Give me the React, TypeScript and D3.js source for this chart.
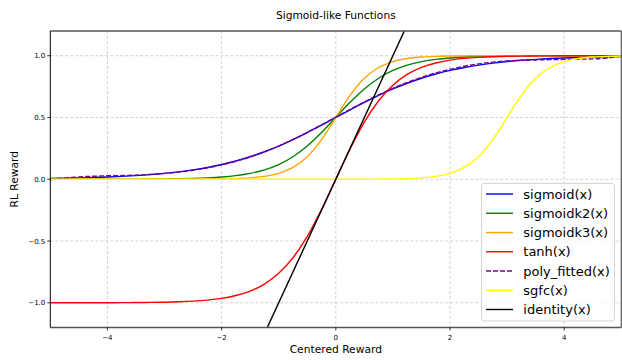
import React from "react";
import * as d3 from "d3";

const xs = [-5, -4.75, -4.5, -4.25, -4, -3.75, -3.5, -3.25, -3, -2.75, -2.5, -2.25, -2, -1.75, -1.5, -1.25, -1, -0.75, -0.5, -0.25, 0,
  0.25, 0.5, 0.75, 1, 1.25, 1.5, 1.75, 2, 2.25, 2.5, 2.75, 3, 3.25, 3.5, 3.75, 4, 4.25, 4.5, 4.75, 5];

const sigmoid = [0.0067, 0.0086, 0.011, 0.0141, 0.018, 0.023, 0.0293, 0.0373, 0.0474, 0.0601, 0.0759, 0.0953, 0.1192, 0.148, 0.1824, 0.2227, 0.2689, 0.3208, 0.3775, 0.4378, 0.5,
  0.5622, 0.6225, 0.6792, 0.7311, 0.7773, 0.8176, 0.852, 0.8808, 0.9047, 0.9241, 0.9399, 0.9526, 0.9627, 0.9707, 0.977, 0.982, 0.9859, 0.989, 0.9914, 0.9933];

const sigmoidk2 = [0.0, 0.0001, 0.0001, 0.0002, 0.0003, 0.0006, 0.0009, 0.0015, 0.0025, 0.0041, 0.0067, 0.011, 0.018, 0.0293, 0.0474, 0.0759, 0.1192, 0.1824, 0.2689, 0.3775, 0.5,
  0.6225, 0.7311, 0.8176, 0.8808, 0.9241, 0.9526, 0.9707, 0.982, 0.989, 0.9933, 0.9959, 0.9975, 0.9985, 0.9991, 0.9994, 0.9997, 0.9998, 0.9999, 0.9999, 1.0];

const sigmoidk3 = [0.0, 0.0, 0.0, 0.0, 0.0, 0.0, 0.0, 0.0001, 0.0001, 0.0003, 0.0006, 0.0012, 0.0025, 0.0052, 0.011, 0.023, 0.0474, 0.0953, 0.1824, 0.3208, 0.5,
  0.6792, 0.8176, 0.9047, 0.9526, 0.977, 0.989, 0.9948, 0.9975, 0.9988, 0.9994, 0.9997, 0.9999, 0.9999, 1.0, 1.0, 1.0, 1.0, 1.0, 1.0, 1.0];

const tanhV = [-0.9999, -0.9999, -0.9998, -0.9996, -0.9993, -0.9989, -0.9982, -0.997, -0.9951, -0.9919, -0.9866, -0.978, -0.964, -0.9414, -0.9051, -0.8483, -0.7616, -0.6351, -0.4621, -0.2449, 0,
  0.2449, 0.4621, 0.6351, 0.7616, 0.8483, 0.9051, 0.9414, 0.964, 0.978, 0.9866, 0.9919, 0.9951, 0.997, 0.9982, 0.9989, 0.9993, 0.9996, 0.9998, 0.9999, 0.9999];

const polyFitted = [-0.0033, 0.0086, 0.019, 0.0241, 0.028, 0.03, 0.0333, 0.0393, 0.0474, 0.0581, 0.0729, 0.0923, 0.1162, 0.146, 0.1804, 0.2217, 0.2689, 0.3218, 0.3795, 0.4408, 0.503,
  0.5652, 0.6265, 0.6832, 0.7361, 0.7833, 0.8246, 0.86, 0.8898, 0.9147, 0.9341, 0.9479, 0.9576, 0.9627, 0.9657, 0.968, 0.97, 0.9719, 0.974, 0.9814, 0.9973];

const sgfc = [0, 0, 0, 0, 0, 0, 0, 0, 0, 0, 0, 0, 0, 0, 0, 0, 0, 0, 0, 0, 0.0001,
  0.0003, 0.0006, 0.0012, 0.0025, 0.0052, 0.011, 0.023, 0.0474, 0.0953, 0.1824, 0.3208, 0.5, 0.6792, 0.8176, 0.9047, 0.9526, 0.977, 0.989, 0.9948, 0.9975];

const identityX = [-5, 5];
const identityY = [-5, 5];

const xTicks = [-4, -2, 0, 2, 4];
const yTicks = [-1.0, -0.5, 0.0, 0.5, 1.0];

const series = [
  { name: "sigmoid(x)", x: xs, y: sigmoid, color: "#0000ff", dash: "" },
  { name: "sigmoidk2(x)", x: xs, y: sigmoidk2, color: "#008000", dash: "" },
  { name: "sigmoidk3(x)", x: xs, y: sigmoidk3, color: "#ffa500", dash: "" },
  { name: "tanh(x)", x: xs, y: tanhV, color: "#ff0000", dash: "" },
  { name: "poly_fitted(x)", x: xs, y: polyFitted, color: "#800080", dash: "5,2" },
  { name: "sgfc(x)", x: xs, y: sgfc, color: "#ffff00", dash: "" },
  { name: "identity(x)", x: identityX, y: identityY, color: "#000000", dash: "" },
];

const W = 622, H = 360;
const L = 50.3, R = 621.3, T = 31, B = 327.5;
const font = "DejaVu Sans, sans-serif";

export default function App() {
  const x = d3.scaleLinear().domain([-5, 5]).range([L, R]);
  const y = d3.scaleLinear().domain([-1.2, 1.2]).range([B, T]);
  const fmt = (v: number) => v.toFixed(1).replace("-", "\u2212");
  const fmtX = (v: number) => String(v).replace("-", "\u2212");

  const legTop = 183.5, legLeft = 481.5, legW = 133, legH = 137.5;
  const row0 = 194, rowStep = 19.25;

  return (
    <svg width={W} height={H} style={{ position: "absolute", left: 0, top: 0, background: "#fff" }} fontFamily={font}>
      <defs>
        <clipPath id="plotclip">
          <rect x={L} y={T} width={R - L} height={B - T} />
        </clipPath>
      </defs>
      <rect x={0} y={0} width={W} height={H} fill="#fff" />
      {/* grid */}
      {xTicks.map((t) => (
        <line key={"gx" + t} x1={x(t)} x2={x(t)} y1={T} y2={B} stroke="#c8c8c8" strokeWidth={0.8} strokeDasharray="3,2" />
      ))}
      {yTicks.map((t) => (
        <line key={"gy" + t} x1={L} x2={R} y1={y(t)} y2={y(t)} stroke="#c8c8c8" strokeWidth={0.8} strokeDasharray="3,2" />
      ))}
      {/* curves */}
      <g clipPath="url(#plotclip)">
        {series.map((s) => {
          const pts = s.x.map((xv, i) => [xv, s.y[i]] as [number, number]);
          const line = d3
            .line<[number, number]>()
            .x((d) => x(d[0]))
            .y((d) => y(d[1]))
            .curve(d3.curveMonotoneX);
          return (
            <path key={s.name} d={line(pts) || ""} fill="none" stroke={s.color} strokeWidth={1.4} strokeDasharray={s.dash || undefined} />
          );
        })}
      </g>
      {/* spines */}
      <line x1={L} x2={R} y1={T} y2={T} stroke="#555" strokeWidth={1.4} />
      <line x1={L} x2={R} y1={B} y2={B} stroke="#555" strokeWidth={1.4} />
      <line x1={R} x2={R} y1={T} y2={B} stroke="#555" strokeWidth={1.2} />
      <line x1={L} x2={L} y1={T} y2={B} stroke="#000" strokeWidth={1} />
      {/* ticks */}
      {xTicks.map((t) => (
        <g key={"tx" + t}>
          <line x1={x(t)} x2={x(t)} y1={B} y2={B + 3} stroke="#000" strokeWidth={0.8} />
          <text x={x(t)} y={339.5} fontSize={7} textAnchor="middle" fill="#000">{fmtX(t)}</text>
        </g>
      ))}
      {yTicks.map((t) => (
        <g key={"ty" + t}>
          <line x1={L - 3} x2={L} y1={y(t)} y2={y(t)} stroke="#000" strokeWidth={0.8} />
          <text x={L - 5} y={y(t) + 2.5} fontSize={7} textAnchor="end" fill="#000">{fmt(t)}</text>
        </g>
      ))}
      {/* labels */}
      <text x={(L + R) / 2} y={18.5} fontSize={10.7} textAnchor="middle" fill="#000">Sigmoid-like Functions</text>
      <text x={(L + R) / 2} y={352.5} fontSize={10.7} textAnchor="middle" fill="#000">Centered Reward</text>
      <text transform={`translate(18,${(T + B) / 2}) rotate(-90)`} fontSize={10.7} textAnchor="middle" fill="#000">RL Reward</text>
      {/* legend */}
      <rect x={legLeft} y={legTop} width={legW} height={legH} rx={2.5} fill="#fff" fillOpacity={0.8} stroke="#cccccc" strokeWidth={0.8} />
      {series.map((s, i) => {
        const cy = row0 + i * rowStep;
        return (
          <g key={"lg" + s.name}>
            <line x1={486} x2={513} y1={cy} y2={cy} stroke={s.color} strokeWidth={1.4} strokeDasharray={s.dash || undefined} />
            <text x={523.3} y={cy + 4.6} fontSize={13} fill="#000">{s.name}</text>
          </g>
        );
      })}
    </svg>
  );
}
